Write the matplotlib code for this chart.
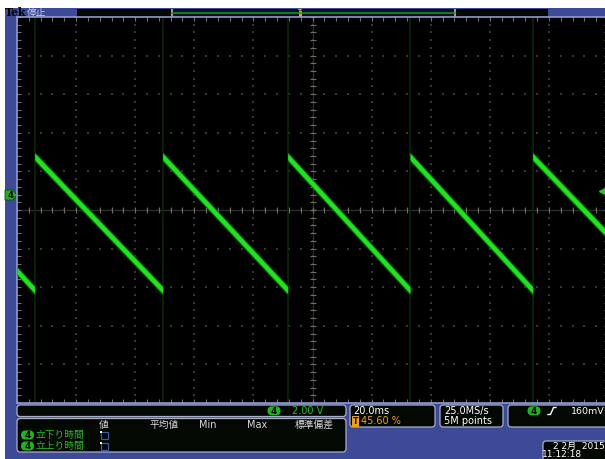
import numpy as np
import matplotlib
matplotlib.use("Agg")
import matplotlib.pyplot as plt
from matplotlib.patches import FancyBboxPatch, Rectangle, Polygon

plt.rcParams['font.family'] = ['DejaVu Sans', 'Noto Sans CJK JP']

# acquisition settings
time_per_div = 20.0      # ms/div
volts_per_div = 2.00     # V/div
trigger_pos = 45.60      # % of record before trigger
ch_position = 0.40       # div, channel 4 offset
trigger_level = 0.160    # V
sample_rate = "25.0MS/s"
record_len = "5M points"

# channel 4 sawtooth: rising edges, ramp start/end voltages (ms, V)
rise_times = [-85.2, -41.9, 0.4, 41.8, 83.3]
peak_volts = [1.97, 1.97, 1.97, 1.97, 1.97]
trough_volts = [-4.95, -4.95, -4.95, -4.95, -4.95]
left_start = (-91.2, -3.95)
right_end = (108.8, -2.10)

# measurement readout table
meas_headers = ["値", "平均値", "Min", "Max", "標準偏差"]
meas_rows = ["立下り時間", "立上り時間"]
date_text = "2 2月  2015"
time_text = "11:12:18"

BLUE = "#3d4a98"
PANEL = "#030803"
EDGE = "#a9b0c8"
GREEN = "#1ee61e"
LABEL_GREEN = "#22c022"
ORANGE = "#f0a010"

fig = plt.figure(figsize=(6.05, 4.59), dpi=100)
fig.patch.set_facecolor("white")

# screen chrome in pixel coordinates
bg = fig.add_axes([0, 0, 1, 1])
bg.set_xlim(0, 605)
bg.set_ylim(459, 0)
bg.axis("off")
bg.add_patch(Rectangle((5, 8), 600, 451, fc=BLUE, ec="none"))


def box(x0, y0, x1, y1):
    bg.add_patch(FancyBboxPatch((x0, y0), x1 - x0, y1 - y0,
                                boxstyle="round,pad=0,rounding_size=3",
                                fc=PANEL, ec=EDGE, lw=0.9))


def badge(cx, cy, label="4"):
    bg.add_patch(FancyBboxPatch((cx - 6.5, cy - 4.5), 13, 9,
                                boxstyle="round,pad=0,rounding_size=4.5",
                                fc="#1db41d", ec="none"))
    bg.text(cx, cy + 0.3, label, ha="center", va="center", fontsize=6.5,
            fontweight="bold", color="black")


# top status bar: logo, run state, record overview
bg.text(4.5, 12.8, "Tek", fontsize=7.8, fontweight="bold", family="DejaVu Serif",
        color="black", va="center", ha="left")
bg.text(26.5, 12.8, "停止", fontsize=7, color="#c8cce8", va="center",
        family=["Noto Sans CJK JP"])
bg.add_patch(Rectangle((77, 8.5), 471, 8, fc="#040804", ec="none"))
bg.add_patch(Rectangle((172, 8.5), 283, 8, fc="#0b0f22", ec="none"))
bg.plot([172, 455], [12.5, 12.5], color="#1a9a1a", lw=1.1)
for xb in (172, 455):
    bg.add_patch(Rectangle((xb - 0.8, 8.5), 1.6, 8, fc="#9a9a9a", ec="none"))
bg.add_patch(Polygon([(297.5, 8.8), (302.5, 8.8), (300, 11)], fc=ORANGE, ec="none"))
bg.add_patch(Rectangle((298.5, 10.5), 3, 6, fc=ORANGE, ec="none"))

# graticule
ax = fig.add_axes([17 / 605, 56 / 459, 591 / 605, 386 / 459])
ax.set_facecolor("black")
t_left = -trigger_pos / 100 * 10 * time_per_div
t_right = t_left + 10 * time_per_div
v_mid = -ch_position * volts_per_div
v_lo, v_hi = v_mid - 5 * volts_per_div, v_mid + 5 * volts_per_div
ax.set_xlim(t_left, t_right)
ax.set_ylim(v_lo, v_hi)

major_t = t_left + time_per_div * np.arange(11)
minor_t = t_left + time_per_div / 5 * np.arange(51)
major_v = v_lo + volts_per_div * np.arange(11)
minor_v = v_lo + volts_per_div / 5 * np.arange(51)

tt, vv = np.meshgrid(major_t[1:-1], minor_v)
ax.scatter(tt.ravel(), vv.ravel(), s=1.2, marker="s", color="#363636", lw=0, zorder=1)
tt, vv = np.meshgrid(minor_t, major_v[1:-1])
ax.scatter(tt.ravel(), vv.ravel(), s=1.2, marker="s", color="#363636", lw=0, zorder=1)

t_mid = t_left + 5 * time_per_div
ax.axvline(t_mid, color="#2c2c2c", lw=1, zorder=1)
ax.axhline(v_mid, color="#2c2c2c", lw=1, zorder=1)
ax.plot(minor_t, np.full_like(minor_t, v_mid), "|", ms=4, mew=0.8, color="#6e6e62", zorder=2)
ax.plot(np.full_like(minor_v, t_mid), minor_v, "_", ms=4, mew=0.8, color="#6e6e62", zorder=2)

ax.set_xticks(major_t)
ax.set_xticks(minor_t, minor=True)
ax.set_yticks(major_v)
ax.set_yticks(minor_v, minor=True)
ax.tick_params(which="both", direction="in", top=True, right=True, length=3,
               width=0.8, color="#707070", labelbottom=False, labelleft=False)
for sp in ax.spines.values():
    sp.set_color("#8e9ccc")
    sp.set_linewidth(1.2)

# fast edges leave only a faint column
for t in rise_times:
    ax.axvline(t, color="#0a260a", lw=1.2, zorder=2)

# ramp segments between rising edges
seg_t = [[left_start[0], rise_times[0]]]
seg_v = [[left_start[1], trough_volts[0]]]
for i in range(len(rise_times) - 1):
    seg_t.append([rise_times[i], rise_times[i + 1]])
    seg_v.append([peak_volts[i], trough_volts[i + 1]])
seg_t.append([rise_times[-1], right_end[0]])
seg_v.append([peak_volts[-1], right_end[1]])

for ts, vs in zip(seg_t, seg_v):
    ts, vs = np.array(ts), np.array(vs)
    ax.fill_between(ts, vs - 0.24, vs + 0.24, color="#0c7a0c", lw=0, zorder=3)
    ax.fill_between(ts, vs - 0.16, vs + 0.16, color=GREEN, lw=0, zorder=4)

# trigger level marker on the right edge, ground marker on the left
ax.plot(t_right - 1.9, trigger_level, marker="<", ms=5, color="#22cc22",
        lw=0, clip_on=False, zorder=6)
bg.add_patch(Polygon([(5, 190), (13, 190), (17, 195), (13, 200), (5, 200)],
                     fc="#1db31d", ec="#0a4a0a", lw=0.6, zorder=6))
bg.text(10, 195.3, "4", ha="center", va="center", fontsize=6, fontweight="bold",
        color="black", zorder=7)

# trigger position marker
bg.add_patch(Rectangle((284.5, 17.5), 5, 2, fc=ORANGE, ec="none", zorder=6))
bg.text(287, 25.5, "T", ha="center", va="center", fontsize=6.5, fontweight="bold",
        color="black", zorder=7,
        bbox=dict(boxstyle="round,pad=0.15,rounding_size=0.3", fc=ORANGE, ec="none"))

# vertical scale readout
box(17, 405, 346, 416.5)
badge(274, 410.8)
bg.text(292, 411, f"{volts_per_div:.2f} V", color=LABEL_GREEN, fontsize=7,
        va="center", ha="left")

# measurement table
box(17, 418.5, 346, 452)
header_x = [104, 164, 208, 257, 314]
for hx, h in zip(header_x, meas_headers):
    bg.text(hx, 425, h, color="#d8d8d8", fontsize=7, ha="center", va="center")
for ry, label in zip([435, 446], meas_rows):
    badge(27.5, ry)
    bg.text(35.5, ry, label, color=LABEL_GREEN, fontsize=7, ha="left", va="center",
            family=["Noto Sans CJK JP"])
    bg.add_patch(Rectangle((100.5, ry - 3.5), 7, 7, fc="none", ec="#3a5aa8", lw=0.9))
    bg.add_patch(Rectangle((100, ry - 4), 1.5, 1.5, fc="white", ec="none"))

# horizontal settings
box(350, 405, 435, 427)
bg.text(353, 411, f"{time_per_div:.1f}ms", color="white", fontsize=7, va="center")
bg.text(355.5, 421.5, "T", ha="center", va="center", fontsize=5.5, fontweight="bold",
        color="black",
        bbox=dict(boxstyle="square,pad=0.12", fc=ORANGE, ec="none"))
bg.text(361, 421.5, f"{trigger_pos:.2f} %", color=ORANGE, fontsize=7, va="center")

# acquisition
box(440, 405, 503, 427)
bg.text(444, 411, sample_rate, color="white", fontsize=7, va="center")
bg.text(444, 421.5, record_len, color="white", fontsize=7, va="center")

# trigger readout
box(508, 405, 625, 427)
badge(534, 410.8)
bg.plot([548, 550.5, 553.5, 556], [414.5, 414.5, 407.5, 407.5], color="white", lw=1)
bg.text(571, 411, f"{trigger_level * 1000:.0f}mV", color="white", fontsize=6.8, va="center")

# clock
box(543, 441, 625, 475)
bg.text(553, 446.5, date_text, color="white", fontsize=6.5, va="center")
bg.text(542, 454.5, time_text, color="white", fontsize=6.5, va="center")

fig.savefig("out.png", dpi=100, facecolor=fig.get_facecolor())
